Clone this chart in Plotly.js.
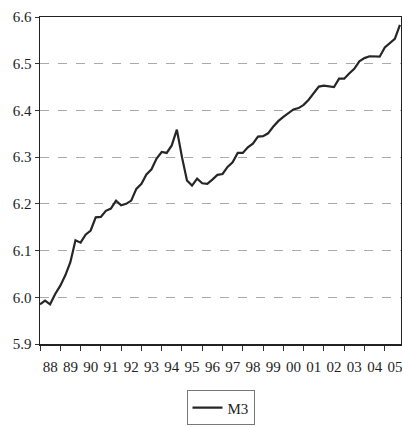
<!DOCTYPE html>
<html>
<head>
<meta charset="utf-8">
<script src="https://cdn.plot.ly/plotly-3.0.1.min.js"></script>
<style>html,body{margin:0;padding:0;background:#fff;}#chart{width:402px;height:427px;}</style>
</head>
<body>
<div id="chart"></div>
<script>
// Quarterly series, 1988Q1 - 2005Q4
const startYear = 1988;
const seriesName = "M3";
const m3 = [
  5.985, 5.993, 5.985, 6.007, 6.025, 6.047, 6.075, 6.122,
  6.117, 6.134, 6.143, 6.171, 6.172, 6.185, 6.190, 6.207,
  6.197, 6.200, 6.207, 6.232, 6.243, 6.263, 6.274, 6.297,
  6.311, 6.309, 6.325, 6.359, 6.300, 6.250, 6.239, 6.254,
  6.244, 6.243, 6.252, 6.262, 6.264, 6.279, 6.289, 6.309,
  6.309, 6.321, 6.329, 6.344, 6.345, 6.351, 6.365, 6.377,
  6.386, 6.395, 6.402, 6.405, 6.412, 6.423, 6.436, 6.451,
  6.453, 6.452, 6.450, 6.468, 6.468, 6.479, 6.489, 6.505,
  6.512, 6.516, 6.516, 6.515, 6.535, 6.543, 6.553, 6.583
];
const yTicks = [5.9, 6.0, 6.1, 6.2, 6.3, 6.4, 6.5, 6.6];
const yTickText = ["5.9", "6.0", "6.1", "6.2", "6.3", "6.4", "6.5", "6.6"];

const dates = m3.map((_, i) => {
  const y = startYear + Math.floor(i / 4);
  const m = (i % 4) * 3 + 1;
  return y + "-" + String(m).padStart(2, "0") + "-01";
});

const font = {family: "Liberation Serif, Times New Roman, serif", size: 15, color: "#1e1e1e"};

Plotly.newPlot("chart", [{
  x: dates, y: m3, type: "scatter", mode: "lines", name: seriesName,
  line: {color: "#262626", width: 2.2}
}], {
  width: 402, height: 427,
  margin: {l: 40, r: 1, t: 17, b: 79},
  paper_bgcolor: "#fff", plot_bgcolor: "#fff",
  font: font,
  showlegend: true,
  legend: {x: 0.5, xanchor: "center", y: -0.142, yanchor: "top",
           bordercolor: "#777", borderwidth: 1, font: font, bgcolor: "#fff"},
  xaxis: {
    type: "date", range: ["1988-01-01", "2005-10-20"],
    tick0: "1988-01-01", dtick: "M12", tickformat: "%y", ticklabelmode: "period",
    ticklabeloverflow: "allow",
    ticks: "outside", ticklen: 5, tickcolor: "#333", tickwidth: 1,
    ticklabelstandoff: 3,
    showgrid: false, showline: true, linecolor: "#222", linewidth: 1.5, mirror: true,
    zeroline: false, tickfont: font
  },
  yaxis: {
    range: [5.9, 6.6], tickvals: yTicks, ticktext: yTickText,
    ticks: "outside", ticklen: 4, tickcolor: "#333",
    showgrid: true, gridcolor: "#aaa", griddash: "dash", gridwidth: 1,
    showline: true, linecolor: "#222", linewidth: 1.5, mirror: true,
    zeroline: false, tickfont: font
  }
}, {displayModeBar: false, staticPlot: true});
</script>
</body>
</html>
